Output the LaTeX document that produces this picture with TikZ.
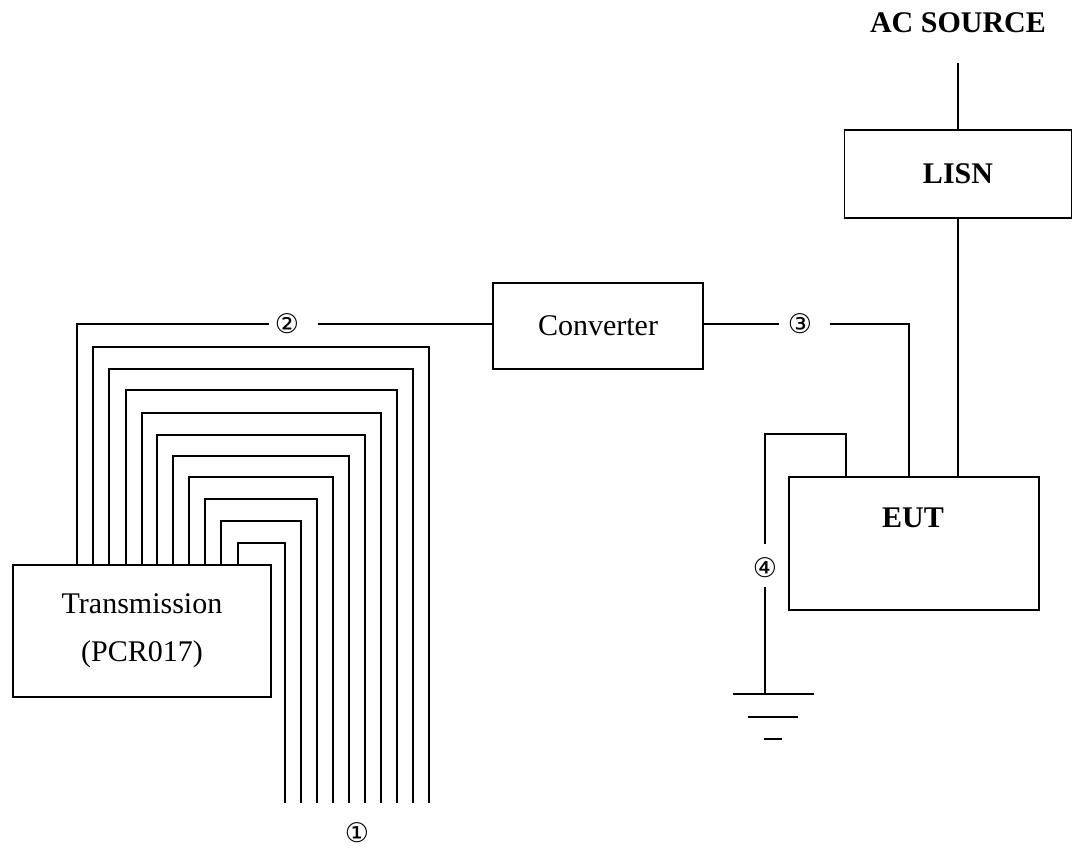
\documentclass[tikz,border=0pt]{standalone}
\usepackage{fontspec}
\setmainfont{Liberation Serif}
\newfontfamily\circfont{DejaVu Sans}
\usepackage{tikz}
\usetikzlibrary{positioning, calc}

\begin{document}
\begin{tikzpicture}[x=0.5pt, y=-0.5pt, line width=0.8pt,
    box/.style={draw, inner sep=0pt, align=center, font=\fontsize{15}{24}\selectfont},
    num/.style={inner sep=0pt, font=\circfont\fontsize{13.5}{13.5}\selectfont},
    title/.style={inner sep=0pt, font=\fontsize{15}{18}\selectfont\bfseries}]
    \useasboundingbox (0,0) rectangle (1076,850);

    % boxes
    \node[box, minimum width=129pt, minimum height=66pt] (trans) at (142,631) {Transmission\\(PCR017)};
    \node[box, minimum width=105pt, minimum height=43pt] (conv) at (598,326) {Converter};
    \node[box, minimum width=113.5pt, minimum height=44pt, font=\fontsize{15}{18}\selectfont\bfseries] (lisn) at (958,174) {LISN};
    \node[box, minimum width=125pt, minimum height=66.5pt] (eut) at (914,543.5) {};
    \node[title] (eutlabel) at (913,518) {EUT};
    \node[title] (ac) at (958,23) {AC SOURCE};

    % cable numbers
    \node[num] (n1) at (357,833) {①};
    \node[num] (n2) at (287,324) {②};
    \node[num] (n3) at (800,324) {③};
    \node[num] (n4) at (765,568) {④};

    % bundle of cables out of the transmission box
    \foreach \l/\t/\r in {
        93/347/429, 109/369/413, 126/390/397, 142/413/381, 157/435/365,
        173/456/349, 189/477/333, 205/499/317, 221/521/301, 238/543/285}
        \draw (\l,0 |- trans.north) |- (\r,\t) -- (\r,803);

    % cable 2
    \draw (77,0 |- trans.north) |- ([xshift=-2.5pt]n2.west);
    \draw ([xshift=9pt]n2.east) -- (n2.east -| conv.west);

    % cable 3
    \draw (n3.west -| conv.east) -- ([xshift=-4pt]n3.west);
    \draw ([xshift=8.5pt]n3.east) -| (eut.north -| 909,0);

    % mains
    \coordinate (acend) at (958,63);
    \draw (acend) -- (lisn.north);
    \draw (lisn.south) -- (lisn.south |- eut.north);

    % earth
    \coordinate (gnd) at (765,694);
    \draw (eut.north -| 846,0) |- (765,434) -- ([yshift=6.5pt]n4.north);
    \draw ([yshift=-4pt]n4.south) -- (gnd);
    \draw (gnd) ++(-32,0) -- ++(81,0);
    \draw (gnd) ++(-17,23) -- ++(50,0);
    \draw (gnd) ++(-1,45) -- ++(18,0);

\end{tikzpicture}
\end{document}
